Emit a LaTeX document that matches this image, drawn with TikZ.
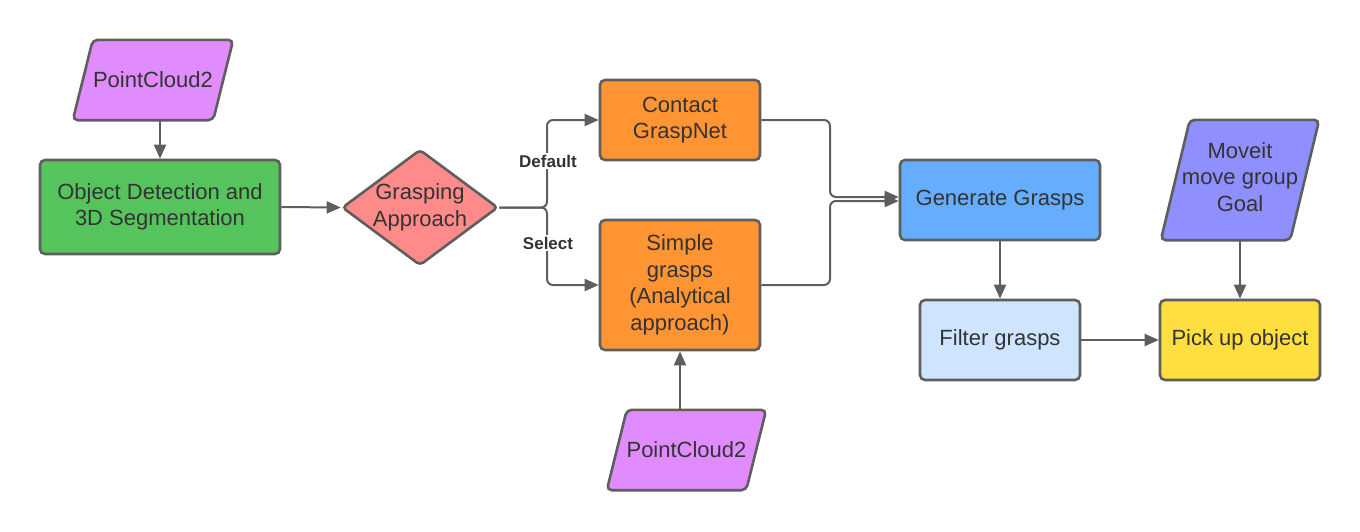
\documentclass[tikz,border=0pt]{standalone}
\usepackage{fontspec}
\setmainfont{Liberation Sans}
\usetikzlibrary{shapes.geometric,arrows.meta,backgrounds}
\definecolor{bordc}{HTML}{5E5E5E}
\definecolor{txtc}{HTML}{333333}
\definecolor{cpurple}{HTML}{E08CFF}
\definecolor{cmove}{HTML}{8F8FFF}
\definecolor{cgreen}{HTML}{56C45C}
\definecolor{cred}{HTML}{FF8A8A}
\definecolor{corange}{HTML}{FF9433}
\definecolor{cblue}{HTML}{66ADFF}
\definecolor{clight}{HTML}{CFE4FF}
\definecolor{cyellow}{HTML}{FFDF3F}
\begin{document}
\begin{tikzpicture}[x=1pt,y=-1pt,
  txt/.style={text=txtc, align=center, font=\fontsize{22}{26.5}\selectfont},
  box/.style={txt, draw=bordc, line width=2.6pt, rounded corners=5pt, inner sep=0pt},
  para/.style={txt, inner sep=0pt, rectangle},
  parashape/.style={draw=bordc, line width=2.6pt, rounded corners=5pt},
  dia/.style={draw=bordc, line width=2.6pt, rounded corners=4pt, diamond, inner sep=0pt,
    minimum width=156pt, minimum height=116pt},
  conn/.style={draw=bordc, line width=2pt, -{Triangle[length=14pt,width=12pt]}},
  lab/.style={fill=white, text=txtc, font=\bfseries\fontsize{17}{20}\selectfont, inner sep=1.5pt}
]
\useasboundingbox (0,0) rectangle (1360,531);

\node[para, minimum width=160pt, minimum height=80pt] (pc1) at (153,80) {PointCloud2};
\node[box, fill=cgreen, minimum width=240pt, minimum height=94pt] (obj) at (160,207) {Object Detection and\\3D Segmentation};
\node[dia, fill=cred, label={[txt]center:Grasping\\Approach}] (dia) at (420,207.5) {};
\node[box, fill=corange, minimum width=160pt, minimum height=80pt] (contact) at (680,120) {Contact\\GraspNet};
\node[box, fill=corange, minimum width=160pt, minimum height=130pt] (simple) at (680,285) {Simple\\grasps\\(Analytical\\approach)};
\node[para, minimum width=159pt, minimum height=80pt] (pc2) at (686.5,450) {PointCloud2};
\node[box, fill=cblue, minimum width=200pt, minimum height=80pt] (gen) at (1000,200) {Generate Grasps};
\node[box, fill=clight, minimum width=160pt, minimum height=80pt] (filt) at (1000,340) {Filter grasps};
\node[box, fill=cyellow, minimum width=160pt, minimum height=80pt] (pick) at (1240,340) {Pick up object};
\node[para, minimum width=158pt, minimum height=120pt, text depth=6pt] (move) at (1240,180) {Moveit\\move group\\Goal};

\begin{scope}[on background layer]
  \path[parashape, fill=cpurple] (pc1.south west) -- ([xshift=-20pt]pc1.south east) -- (pc1.north east) -- ([xshift=20pt]pc1.north west) -- cycle;
  \path[parashape, fill=cpurple] (pc2.south west) -- ([xshift=-20pt]pc2.south east) -- (pc2.north east) -- ([xshift=20pt]pc2.north west) -- cycle;
  \path[parashape, fill=cmove] (move.south west) -- ([xshift=-29pt]move.south east) -- (move.north east) -- ([xshift=29pt]move.north west) -- cycle;
\end{scope}

\coordinate (br) at (547,207.5);
\coordinate (j1) at (830,197);
\coordinate (j2) at (830,201);

\draw[conn] (obj.north |- pc1.south) -- (obj.north);
\draw[conn] (obj.east) -- (dia.west);
\draw[conn, rounded corners=6pt] (dia.east) -- (br) |- (contact.west);
\draw[conn, rounded corners=6pt] (dia.east) -- (br) |- (simple.west);
\node[lab] (ldef) at (548,161) {Default};
\node[lab] (lsel) at (548,243) {Select};
\draw[conn, rounded corners=6pt] (contact.east) -| (j1) -- (j1 -| gen.west);
\draw[conn, rounded corners=6pt] (simple.east) -| (j2) -- (j2 -| gen.west);
\draw[conn] (gen.south) -- (filt.north);
\draw[conn] (filt.east) -- (pick.west);
\draw[conn] (move.south) -- (pick.north);
\draw[conn] (simple.south |- pc2.north) -- (simple.south);
\end{tikzpicture}
\end{document}
